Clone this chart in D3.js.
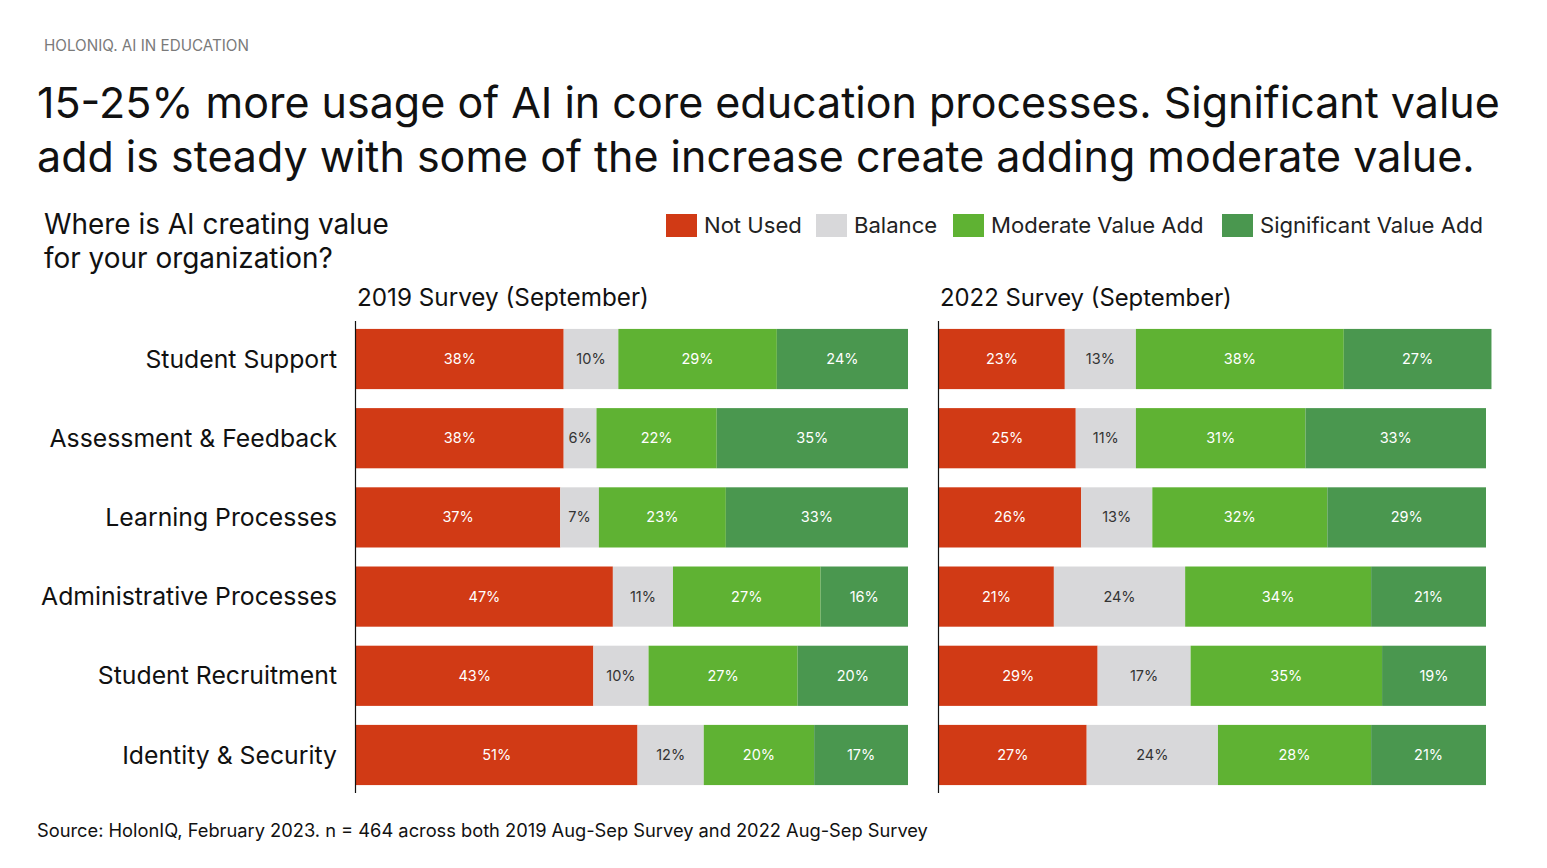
<!DOCTYPE html>
<html>
<head>
<meta charset="utf-8">
<script src="https://cdn.jsdelivr.net/npm/d3@7"></script>
<style>
  body { margin: 0; background: #fff; }
  svg { font-family: "Inter", "Noto Sans", sans-serif; }
</style>
</head>
<body>
<svg id="chart" width="1547" height="868"></svg>
<script>
const categories = ["Student Support", "Assessment & Feedback", "Learning Processes",
  "Administrative Processes", "Student Recruitment", "Identity & Security"];
const seriesNames = ["Not Used", "Balance", "Moderate Value Add", "Significant Value Add"];
const colors = ["#D13A15", "#D8D8DA", "#5FB233", "#4A974F"];

// values per category, order = seriesNames
const survey2019 = [
  [38, 10, 29, 24],
  [38, 6, 22, 35],
  [37, 7, 23, 33],
  [47, 11, 27, 16],
  [43, 10, 27, 20],
  [51, 12, 20, 17]
];
const survey2022 = [
  [23, 13, 38, 27],
  [25, 11, 31, 33],
  [26, 13, 32, 29],
  [21, 24, 34, 21],
  [29, 17, 35, 19],
  [27, 24, 28, 21]
];

const svg = d3.select("#chart");

// shrink/grow font size so a text fits the width it has in the original
function fitWidth(sel, w) {
  sel.each(function() {
    const t = d3.select(this);
    const cur = this.getComputedTextLength();
    const fs = parseFloat(t.attr("font-size"));
    t.attr("font-size", (fs * w / cur).toFixed(2));
  });
}

svg.append("text").attr("x", 44).attr("y", 51)
  .attr("font-size", 14).attr("fill", "#7a7a7a")
  .text("HOLONIQ. AI IN EDUCATION").call(fitWidth, 205);

const t1 = svg.append("text").attr("x", 37).attr("y", 118).attr("font-size", 44).attr("fill", "#111")
  .text("15-25% more usage of AI in core education processes. Significant value");
t1.call(fitWidth, 1463);
svg.append("text").attr("x", 37).attr("y", 172).attr("font-size", t1.attr("font-size")).attr("fill", "#111")
  .text("add is steady with some of the increase create adding moderate value.");

const s1 = svg.append("text").attr("x", 44).attr("y", 234).attr("font-size", 26).attr("fill", "#111")
  .text("Where is AI creating value");
s1.call(fitWidth, 345);
svg.append("text").attr("x", 44).attr("y", 268).attr("font-size", s1.attr("font-size")).attr("fill", "#111")
  .text("for your organization?");

// legend
const legendX = [666, 816, 953, 1222];
const legend = svg.append("g").selectAll("g").data(seriesNames).join("g")
  .attr("transform", (d, i) => `translate(${legendX[i]},214)`);
legend.append("rect").attr("width", 31).attr("height", 23)
  .attr("fill", (d, i) => colors[i]);
const lt = legend.append("text").attr("x", 38).attr("y", 19)
  .attr("font-size", 22).attr("fill", "#222").text(d => d);
lt.filter(d => d === "Significant Value Add").call(fitWidth, 223);
lt.attr("font-size", lt.filter(d => d === "Significant Value Add").attr("font-size"));

const y = d3.scaleBand().domain(categories).range([321, 793])
  .paddingInner(0.24).paddingOuter(0.1);

const rowLabels = svg.append("g").selectAll("text").data(categories).join("text")
  .attr("x", 337).attr("y", d => y(d) + y.bandwidth() / 2)
  .attr("dy", "0.35em").attr("text-anchor", "end")
  .attr("font-size", 26).attr("fill", "#111").text(d => d);
rowLabels.filter(d => d === "Administrative Processes").call(fitWidth, 296);
rowLabels.attr("font-size", rowLabels.filter(d => d === "Administrative Processes").attr("font-size"));

function drawPanel(data, x0, width, label, normalize) {
  const rows = data.map((v, i) => {
    const o = { cat: categories[i] };
    seriesNames.forEach((s, j) => o[s] = v[j]);
    return o;
  });
  const stack = d3.stack().keys(seriesNames);
  if (normalize) stack.offset(d3.stackOffsetExpand);
  const series = stack(rows);
  const x = d3.scaleLinear().domain([0, normalize ? 1 : 100]).range([x0, x0 + width]);

  svg.append("text").attr("x", x0 + 1).attr("y", 306)
    .attr("font-size", 23).attr("fill", "#111").text(label).call(fitWidth, 292);

  const g = svg.append("g");
  g.selectAll("g").data(series).join("g")
    .attr("fill", (d, i) => colors[i])
    .selectAll("rect").data(d => d).join("rect")
    .attr("x", d => x(d[0]))
    .attr("y", d => y(d.data.cat))
    .attr("width", d => x(d[1]) - x(d[0]))
    .attr("height", y.bandwidth());

  g.selectAll("g").each(function(s, si) {
    d3.select(this).selectAll("text").data(s).join("text")
      .attr("x", d => (x(d[0]) + x(d[1])) / 2)
      .attr("y", d => y(d.data.cat) + y.bandwidth() / 2)
      .attr("dy", "0.35em").attr("text-anchor", "middle")
      .attr("font-size", 14.5)
      .attr("fill", si === 1 ? "#333" : "#fff")
      .text(d => d.data[s.key] + "%");
  });

  svg.append("line").attr("x1", x0 - 0.5).attr("x2", x0 - 0.5)
    .attr("y1", 321).attr("y2", 793).attr("stroke", "#111").attr("stroke-width", 1.2);
}

drawPanel(survey2019, 356, 552, "2019 Survey (September)", true);
drawPanel(survey2022, 939, 547, "2022 Survey (September)", false);

svg.append("text").attr("x", 37).attr("y", 837)
  .attr("font-size", 18).attr("fill", "#111")
  .text("Source: HolonIQ, February 2023. n = 464 across both 2019 Aug-Sep Survey and 2022 Aug-Sep Survey")
  .call(fitWidth, 891);
</script>
</body>
</html>
